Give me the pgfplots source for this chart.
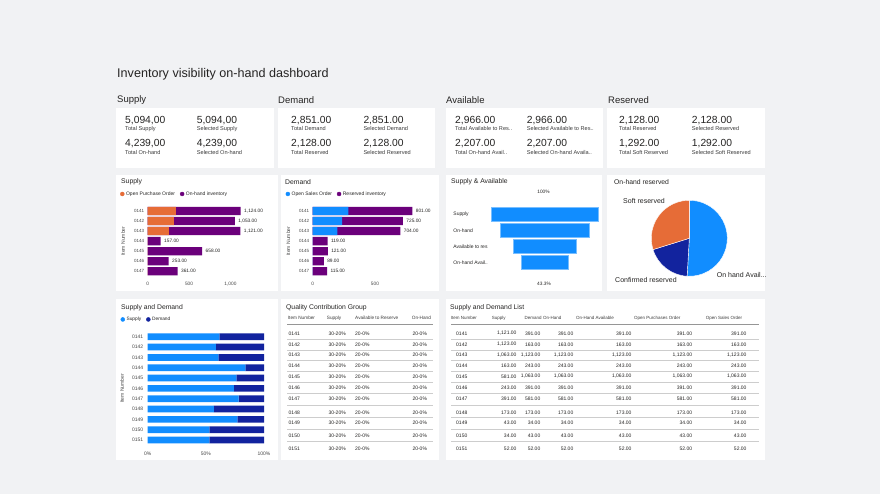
\documentclass[border=0pt]{standalone}
\usepackage{pgfplots}
\pgfplotsset{compat=1.18}
\usepackage{pgfplotstable}
\usepackage{fontspec}
\setmainfont{Liberation Sans}
\definecolor{bg}{RGB}{241,242,244}
\definecolor{pbBlue}{HTML}{118DFF}
\definecolor{pbBlueL}{RGB}{120,190,255}
\definecolor{pbNavy}{HTML}{12239E}
\definecolor{pbOrange}{HTML}{E66C37}
\definecolor{pbPurple}{HTML}{6B007B}
\definecolor{txt}{RGB}{37,36,35}
\definecolor{lab}{RGB}{70,70,70}
\definecolor{sub}{RGB}{60,60,60}
\definecolor{rul}{RGB}{205,205,205}
\definecolor{hrul}{RGB}{150,150,150}
\newcommand{\fs}[1]{\fontsize{#1pt}{#1pt}\selectfont}

\pgfplotstableread{
y total opo lbl
0 1124 340 1,124.00
1 1053 315 1,053.00
2 1121 255 1,121.00
3 157 0 157.00
4 658 0 658.00
5 253 0 253.00
6 361 0 361.00
}\supplytab
\pgfplotstableread{
y total oso lbl
0 801 287 801.00
1 725 236 725.00
2 704 198 704.00
3 119 0 119.00
4 121 0 121.00
5 89 0 89.00
6 115 0 115.00
}\demandtab
\pgfplotstableread{
y off v
0 0 5094
1 427.5 4239
2 1064 2966
3 1443.5 2207
}\funneltab
\pgfplotstableread{
y s d
0 61.6 38.4
1 58.7 41.3
2 60.7 39.3
3 84.0 16.0
4 76.2 23.8
5 74.2 25.8
6 78.2 21.8
7 57.0 43.0
8 77.1 22.9
9 53.0 47.0
10 53.0 47.0
}\sdtab
\def\pieOHA{2207}
\def\pieConf{836}
\def\pieSoft{1292}

\pgfplotsset{base/.style={
  scale only axis, anchor=south west, y dir=reverse, clip=false,
  axis line style={draw=none}, major tick length=0pt, tick style={draw=none},
  tick label style={font=\fs{4.8}, text=lab},
  yticklabel style={font=\fs{4.5}},
  ylabel style={font=\fs{5}, text=lab, anchor=center},
  legend style={anchor=west, draw=none, fill=none, inner sep=0pt, font=\fs{5}, text=txt,
    nodes={inner sep=0.4pt},
    legend columns=-1,
    /tikz/every odd column/.append style={column sep=1.2pt},
    /tikz/every even column/.append style={column sep=4.5pt}},
  legend cell align=left,
}}
\newcommand{\legdot}[1]{\addlegendimage{legend image code/.code={\fill[#1] (2pt,0pt) circle (2pt);}}}

\begin{document}
\begin{tikzpicture}
\path[use as bounding box] (0,0) rectangle (880pt,494pt);
\pgfmathsetmacro{\pieTot}{\pieOHA+\pieConf+\pieSoft}
\pgfmathsetmacro{\aA}{90}
\pgfmathsetmacro{\aB}{90-360*(\pieOHA/\pieTot)}
\pgfmathsetmacro{\aC}{\aB-360*(\pieConf/\pieTot)}
\pgfmathsetmacro{\aD}{\aC-360*(\pieSoft/\pieTot)}

\begin{scope}[x=1pt,y=-1pt,yshift=494pt]
\fill[bg] (0,0) rectangle (880,494);
\fill[white] (116,108.5) rectangle (273.5,167.7);
\fill[white] (277.7,108.5) rectangle (435,167.7);
\fill[white] (445.7,108.5) rectangle (602.7,167.7);
\fill[white] (607,108.5) rectangle (764.5,167.7);
\fill[white] (116,175.5) rectangle (277.5,291.5);
\fill[white] (281,175.5) rectangle (438.5,291.5);
\fill[white] (446,175.5) rectangle (602,291.5);
\fill[white] (606.7,175.5) rectangle (764.5,291.5);
\fill[white] (116,299.5) rectangle (277.5,460.5);
\fill[white] (281,299.5) rectangle (438.5,460.5);
\fill[white] (446,299.5) rectangle (764.5,460.5);
\end{scope}

% ---------- Supply chart
\begin{axis}[base,
  at={(147.7pt,{494pt-276.3pt})}, width=99.3pt, height=70.35pt,
  xmin=0, xmax=1200, ymin=-0.5, ymax=6.5,
  ytick={0,...,6}, yticklabels={0141,0142,0143,0144,0145,0146,0147},
  xtick={0,500,1000}, xticklabels={0,500,{1,000}},
  xticklabel style={yshift=-2pt},
  ylabel={Item Number}, ylabel style={at={(axis description cs:-0.249,0.5)}},
  legend style={at={(axis description cs:-0.28,1.17)}},
]
\legdot{pbOrange}\addlegendentry{Open Purchase Order}
\legdot{pbPurple}\addlegendentry{On-hand inventory}
\addplot[xbar, bar shift=0pt, bar width=8.3pt, fill=pbPurple, draw=none,
  nodes near coords, point meta=explicit symbolic,
  nodes near coords style={font=\fs{4.8}, anchor=west, text=txt}]
  table[x=total, y=y, meta=lbl]{\supplytab};
\addplot[xbar, bar shift=0pt, bar width=8.3pt, fill=pbOrange, draw=none]
  table[x=opo, y=y]{\supplytab};
\end{axis}

% ---------- Demand chart
\begin{axis}[base,
  at={(312.7pt,{494pt-276.3pt})}, width=112pt, height=70.35pt,
  xmin=0, xmax=900, ymin=-0.5, ymax=6.5,
  ytick={0,...,6}, yticklabels={0141,0142,0143,0144,0145,0146,0147},
  xtick={0,500}, xticklabels={0,500},
  xticklabel style={yshift=-2pt},
  ylabel={Item Number}, ylabel style={at={(axis description cs:-0.218,0.5)}},
  legend style={at={(axis description cs:-0.243,1.17)}},
]
\legdot{pbBlue}\addlegendentry{Open Sales Order}
\legdot{pbPurple}\addlegendentry{Reserved inventory}
\addplot[xbar, bar shift=0pt, bar width=8.3pt, fill=pbPurple, draw=none,
  nodes near coords, point meta=explicit symbolic,
  nodes near coords style={font=\fs{4.8}, anchor=west, text=txt}]
  table[x=total, y=y, meta=lbl]{\demandtab};
\addplot[xbar, bar shift=0pt, bar width=8.3pt, fill=pbBlue, draw=none]
  table[x=oso, y=y]{\demandtab};
\end{axis}

% ---------- Funnel
\begin{axis}[base, xbar stacked, bar width=14pt,
  at={(484.9pt,{494pt-270.3pt})}, width=119.6pt, height=64pt,
  xmin=-300, xmax=5394, ymin=-0.5, ymax=3.5,
  ytick={0,...,3}, yticklabels={Supply,On-hand,Available to res,On-hand Avail..},
  xtick=\empty,
  yticklabel style={anchor=west, xshift=-35pt, font=\fs{5}, text=txt},
]
\addplot[draw=none, fill=none] table[x=off, y=y]{\funneltab};
\addplot[fill=pbBlue, draw=pbBlueL, line width=0.5pt] table[x=v, y=y]{\funneltab};
\end{axis}

% ---------- Pie
\begin{axis}[hide axis, scale only axis, width=76pt, height=76pt,
  xmin=-1, xmax=1, ymin=-1, ymax=1, clip=false,
  at={(689.3pt,{494pt-238.3pt})}, anchor=center]
\fill[pbBlue, draw=white, line width=0.4pt] (axis cs:0,0) -- (axis cs:{cos(\aA)},{sin(\aA)}) arc[start angle=\aA, end angle=\aB, radius=38pt] -- cycle;
\fill[pbNavy, draw=white, line width=0.4pt] (axis cs:0,0) -- (axis cs:{cos(\aB)},{sin(\aB)}) arc[start angle=\aB, end angle=\aC, radius=38pt] -- cycle;
\fill[pbOrange, draw=white, line width=0.4pt] (axis cs:0,0) -- (axis cs:{cos(\aC)},{sin(\aC)}) arc[start angle=\aC, end angle=\aD, radius=38pt] -- cycle;
\end{axis}

% ---------- Supply and Demand 100%
\begin{axis}[base, xbar stacked, bar width=6.7pt,
  at={(147.7pt,{494pt-445.2pt})}, width=116.3pt, height=113.6pt,
  xmin=0, xmax=100, ymin=-0.5, ymax=10.5,
  ytick={0,...,10}, yticklabels={0141,0142,0143,0144,0145,0146,0147,0148,0149,0150,0151},
  xtick={0,50,100}, xticklabels={0\%,50\%,100\%},
  yticklabel style={font=\fs{5}, xshift=-1pt},
  xticklabel style={font=\fs{5}, yshift=-3.5pt},
  ylabel={Item Number}, ylabel style={at={(axis description cs:-0.221,0.5)}},
  legend style={at={(axis description cs:-0.235,1.107)}, font=\fs{4.8}},
]
\legdot{pbBlue}\addlegendentry{Supply}
\legdot{pbNavy}\addlegendentry{Demand}
\addplot[fill=pbBlue, draw=none] table[x=s, y=y]{\sdtab};
\addplot[fill=pbNavy, draw=none] table[x=d, y=y]{\sdtab};
\end{axis}

% ---------- Texts
\begin{scope}[x=1pt,y=-1pt,yshift=494pt, every node/.style={inner sep=0pt, text=txt}]
\node[anchor=west] at (117,74) {\fs{12.6}Inventory visibility on-hand dashboard};
\node[anchor=west] at (117,100) {\fs{9.5}Supply};
\node[anchor=west] at (278,100) {\fs{9.5}Demand};
\node[anchor=west] at (446,100) {\fs{9.5}Available};
\node[anchor=west] at (608,100) {\fs{9.5}Reserved};
% KPI
\foreach \x/\va/\la/\vb/\lb in {
  125/{5,094,00}/Total Supply/{4,239,00}/Total On-hand,
  196.7/{5,094,00}/Selected Supply/{4,239,00}/Selected On-hand,
  291/{2,851.00}/Total Demand/{2,128.00}/Total Reserved,
  363.3/{2,851.00}/Selected Demand/{2,128.00}/Selected Reserved,
  455/{2,966.00}/Total Available to Res../{2,207.00}/Total On-hand Avail..,
  526.7/{2,966.00}/Selected Available to Res../{2,207.00}/Selected On-hand Availa..,
  619/{2,128.00}/Total Reserved/{1,292.00}/Total Soft Reserved,
  691.7/{2,128.00}/Selected Reserved/{1,292.00}/Selected Soft Reserved}{
  \node[anchor=base west] at (\x,123.6) {\fs{10.3}\va};
  \node[anchor=base west] at (\x,130.3) {\fs{5.6}\color{sub}\la};
  \node[anchor=base west] at (\x,147) {\fs{10.3}\vb};
  \node[anchor=base west] at (\x,154.3) {\fs{5.6}\color{sub}\lb};
}
% chart titles
\node[anchor=west] at (121,181.7) {\fs{6.8}Supply};
\node[anchor=west] at (285,181.7) {\fs{6.8}Demand};
\node[anchor=west] at (451,181.7) {\fs{6.8}Supply \& Available};
\node[anchor=west] at (614,181.7) {\fs{6.8}On-hand reserved};
\node[anchor=west] at (121,307.3) {\fs{6.8}Supply and Demand};
\node[anchor=west] at (286,307.3) {\fs{6.8}Quality Contribution Group};
\node[anchor=west] at (450,307.3) {\fs{6.8}Supply and Demand List};
% funnel labels
\node at (543.5,192) {\fs{4.8}100\%};
\node at (544,284) {\fs{4.8}43.3\%};
% pie labels
\node[anchor=west] at (623,201) {\fs{7}Soft reserved};
\node[anchor=west] at (615,280) {\fs{7}Confirmed reserved};
\node[anchor=west] at (716.7,275) {\fs{7}On hand Avail...};
% QC table
\node[anchor=west] at (287.7,318.3) {\fs{4.7}\color{sub}Item Number};
\node[anchor=west] at (326.7,318.3) {\fs{4.7}\color{sub}Supply};
\node[anchor=west] at (355,318.3) {\fs{4.7}\color{sub}Available to Reserve};
\node[anchor=west] at (411.7,318.3) {\fs{4.7}\color{sub}On-Hand};
\draw[hrul, line width=0.5pt] (287,324.3) -- (433,324.3);
\draw[hrul, line width=0.5pt] (451,324.3) -- (759,324.3);
\foreach \ly in {338.8,349.9,360.5,371.2,382.3,393.7,405.2,417.3,428.8,441.5}{
  \draw[rul, line width=0.5pt] (287,\ly) -- (433,\ly);
  \draw[rul, line width=0.5pt] (451,\ly) -- (759,\ly);
}
\foreach \yy/\it in {333.3/0141,344.3/0142,355/0143,365.7/0144,376.3/0145,387.7/0146,398.7/0147,412.3/0148,423/0149,435.7/0150,448.3/0151}{
  \node[anchor=west] at (288.5,\yy) {\fs{5}\it};
  \node[anchor=west] at (328.3,\yy) {\fs{5}30-20\%};
  \node[anchor=west] at (355,\yy) {\fs{5}20-0\%};
  \node[anchor=west] at (412.3,\yy) {\fs{5}20-0\%};
}
% SDL table
\node[anchor=west] at (450.7,318.3) {\fs{4.5}\color{sub}Item Number};
\node[anchor=west] at (491.7,318.3) {\fs{4.5}\color{sub}Supply};
\node[anchor=west] at (524.5,318.3) {\fs{4.5}\color{sub}Demand};
\node[anchor=west] at (543,318.3) {\fs{4.5}\color{sub}On-Hand};
\node[anchor=west] at (576,318.3) {\fs{4.5}\color{sub}On-Hand Available};
\node[anchor=west] at (634,318.3) {\fs{4.5}\color{sub}Open Purchases Order};
\node[anchor=west] at (705.7,318.3) {\fs{4.5}\color{sub}Open Sales Order};
\foreach \yy/\it/\s/\d/\o in {
  333.3/0141/{1,121.00}/391.00/391.00,
  344.3/0142/{1,123.00}/163.00/163.00,
  355/0143/{1,063.00}/{1,123.00}/{1,123.00},
  365.7/0144/163.00/243.00/243.00,
  376.3/0145/581.00/{1,063.00}/{1,063.00},
  387.7/0146/243.00/391.00/391.00,
  398.7/0147/391.00/581.00/581.00,
  412.3/0148/173.00/173.00/173.00,
  423/0149/43.00/34.00/34.00,
  435.7/0150/34.00/43.00/43.00,
  448.3/0151/52.00/52.00/52.00}{
  \node[anchor=west] at (456,\yy) {\fs{5}\it};
  \node[anchor=east] at (516.7,\yy) {\fs{5}\s};
  \node[anchor=east] at (540.5,\yy) {\fs{5}\d};
  \node[anchor=east] at (573.5,\yy) {\fs{5}\o};
  \node[anchor=east] at (631.7,\yy) {\fs{5}\o};
  \node[anchor=east] at (692.3,\yy) {\fs{5}\o};
  \node[anchor=east] at (746.7,\yy) {\fs{5}\o};
}
\end{scope}
\end{tikzpicture}
\end{document}
